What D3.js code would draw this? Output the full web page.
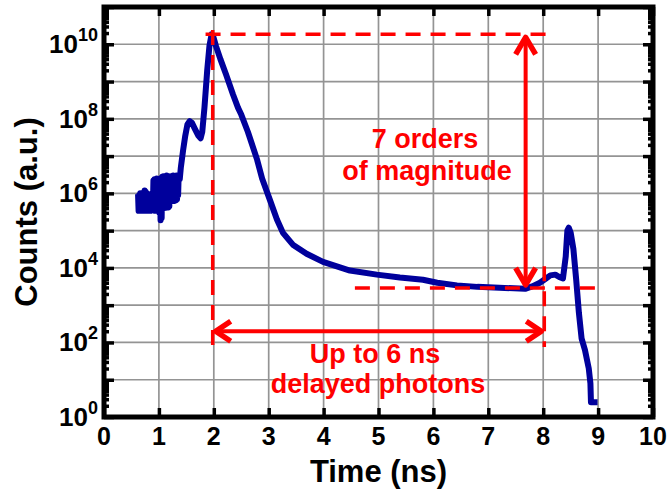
<!DOCTYPE html>
<html>
<head>
<meta charset="utf-8">
<script src="https://cdn.jsdelivr.net/npm/d3@7"></script>
<style>
body { margin: 0; background: #fff; }
svg { font-family: "Liberation Sans", Arial, sans-serif; font-weight: bold; }
</style>
</head>
<body>
<div id="chart"></div>
<script>
// tick labels
var xTicks = [0, 1, 2, 3, 4, 5, 6, 7, 8, 9, 10];
var yLabelExp = [0, 2, 4, 6, 8, 10];

// noisy start of the trace (ns / counts)
var noiseTime = [0.62, 0.63, 0.64, 0.65, 0.66, 0.67, 0.68, 0.69, 0.70, 0.71, 0.72, 0.73, 0.74, 0.75,
    0.76, 0.77, 0.78, 0.79, 0.80, 0.81, 0.82, 0.83, 0.84, 0.85, 0.86, 0.87, 0.88, 0.89, 0.90, 0.91,
    0.92, 0.93, 0.94, 0.95, 0.96, 0.97, 0.98, 0.99, 1.00, 1.01, 1.02, 1.03, 1.04, 1.05, 1.06, 1.07,
    1.08, 1.09, 1.10, 1.11, 1.12, 1.13, 1.14, 1.15, 1.16, 1.17, 1.18, 1.19, 1.20, 1.21, 1.22, 1.23,
    1.24, 1.25, 1.26, 1.27, 1.28, 1.29, 1.30, 1.31, 1.32, 1.33, 1.34, 1.35, 1.36, 1.38];
var noiseCounts = [9.5e5, 3.4e5, 9.0e5, 3.6e5, 1.0e6, 3.4e5, 8.5e5, 3.5e5, 9.5e5, 3.6e5, 8.0e5, 3.4e5, 1.2e6, 3.5e5,
    1.1e6, 3.6e5, 9.0e5, 3.4e5, 8.5e5, 3.5e5, 9.5e5, 3.6e5, 8.0e5, 3.4e5, 9.0e5, 3.5e5, 1.0e6, 3.6e5, 2.2e6, 3.5e5,
    2.4e6, 3.4e5, 2.0e6, 3.6e5, 2.5e6, 3.5e5, 2.2e6, 3.4e5, 2.4e6, 3.0e5, 2.3e6, 1.9e5, 2.6e6, 2.2e5, 2.8e6, 4.2e5,
    2.9e6, 4.0e5, 2.7e6, 4.3e5, 2.9e6, 4.1e5, 3.0e6, 4.4e5, 2.8e6, 4.2e5, 2.9e6, 4.5e5, 2.7e6, 6.0e5, 2.9e6, 6.3e5,
    2.8e6, 6.5e5, 3.0e6, 6.2e5, 2.9e6, 6.4e5, 2.8e6, 6.6e5, 3.0e6, 7.0e5, 2.9e6, 9.0e5, 3.0e6, 2.4e6];

// rest of the trace
var traceTime = [1.40, 1.44, 1.48, 1.52, 1.56, 1.60, 1.66, 1.72, 1.76, 1.79, 1.83, 1.88, 1.92, 1.96, 1.99,
    2.04, 2.12, 2.22, 2.35, 2.44, 2.50, 2.62, 2.79, 2.88, 3.02, 3.15, 3.26, 3.44, 3.69, 3.99, 4.48, 4.97,
    5.39, 5.81, 6.07, 6.43, 6.80, 7.20, 7.67, 7.80, 7.94, 8.05, 8.13, 8.22, 8.30, 8.36, 8.41, 8.44, 8.465,
    8.50, 8.55, 8.60, 8.65, 8.70, 8.76, 8.83, 8.86, 8.87, 8.99];
var traceCounts = [5.0e6, 1.4e7, 3.5e7, 7.1e7, 8.7e7, 7.9e7, 5.2e7, 3.5e7, 3.0e7, 4.5e7, 2.0e8, 2.0e9, 8.9e9, 1.86e10, 1.6e10,
    8.9e9, 4.0e9, 1.6e9, 4.5e8, 2.0e8, 1.3e8, 4.5e7, 7.9e6, 2.5e6, 6.8e5, 2.0e5, 8.7e4, 4.2e4, 2.4e4, 1.45e4, 8.5e3, 6.6e3,
    5.5e3, 4.8e3, 4.0e3, 3.4e3, 3.1e3, 2.95e3, 2.75e3, 3.2e3, 4.0e3, 5.2e3, 6.3e3, 6.6e3, 5.6e3, 5.2e3, 2.0e4, 1.0e5, 1.2e5,
    8.9e4, 3.2e4, 5.0e3, 630, 126, 63, 20, 8, 2.5, 2.5];

// annotation levels
var peakLevel = 1.85e10;
var floorLevel = 2.9e3;
var gateStart = 1.98;
var gateEnd = 8.02;
var arrowTime = 7.68;
var spanLevel = 200;

var width = 670, height = 495;
var margin = {top: 7, right: 17, bottom: 78, left: 104};
var red = "#ff0000";
var blue = "#00009c";

var svg = d3.select("#chart").append("svg")
    .attr("width", width)
    .attr("height", height);

var x = d3.scaleLinear().domain([0, 10]).range([margin.left, width - margin.right]);
var y = d3.scaleLog().domain([1, 1e11]).range([height - margin.bottom, margin.top]);

var decades = d3.range(0, 12).map(e => Math.pow(10, e));
var minors = [];
for (var e = 0; e < 11; e++) {
    for (var m = 2; m < 10; m++) minors.push(m * Math.pow(10, e));
}

// grid
svg.append("g").selectAll("line")
    .data(xTicks.slice(1, -1))
    .enter().append("line")
    .attr("x1", d => x(d)).attr("x2", d => x(d))
    .attr("y1", margin.top).attr("y2", height - margin.bottom)
    .attr("stroke", "#949494").attr("stroke-width", 1.7);

svg.append("g").selectAll("line")
    .data(decades.slice(1, -1))
    .enter().append("line")
    .attr("x1", margin.left).attr("x2", width - margin.right)
    .attr("y1", d => y(d)).attr("y2", d => y(d))
    .attr("stroke", "#949494").attr("stroke-width", 1.7);

// ticks (inward)
function styleAxis(g) {
    g.select(".domain").remove();
    g.selectAll(".tick line").attr("stroke", "black").attr("stroke-width", 3.5);
    g.selectAll(".tick text").remove();
}
svg.append("g").attr("transform", `translate(0,${height - margin.bottom})`)
    .call(d3.axisBottom(x).tickValues(xTicks).tickSizeInner(-9).tickSizeOuter(0)).call(styleAxis);
svg.append("g").attr("transform", `translate(0,${margin.top})`)
    .call(d3.axisTop(x).tickValues(xTicks).tickSizeInner(-9).tickSizeOuter(0)).call(styleAxis);
svg.append("g").attr("transform", `translate(${margin.left},0)`)
    .call(d3.axisLeft(y).tickValues(decades).tickSizeInner(-10).tickSizeOuter(0)).call(styleAxis);
svg.append("g").attr("transform", `translate(${margin.left},0)`)
    .call(d3.axisLeft(y).tickValues(minors).tickSizeInner(-5).tickSizeOuter(0)).call(styleAxis);
svg.append("g").attr("transform", `translate(${width - margin.right},0)`)
    .call(d3.axisRight(y).tickValues(decades).tickSizeInner(-10).tickSizeOuter(0)).call(styleAxis);
svg.append("g").attr("transform", `translate(${width - margin.right},0)`)
    .call(d3.axisRight(y).tickValues(minors).tickSizeInner(-5).tickSizeOuter(0)).call(styleAxis);

// tick labels
svg.append("g").selectAll("text")
    .data(xTicks)
    .enter().append("text")
    .attr("x", d => x(d))
    .attr("y", height - margin.bottom + 28)
    .attr("text-anchor", "middle")
    .attr("font-size", "25px")
    .text(d => d);

var yLab = svg.append("g").selectAll("text")
    .data(yLabelExp)
    .enter().append("text")
    .attr("x", margin.left - 6)
    .attr("y", d => y(Math.pow(10, d)) + 9)
    .attr("text-anchor", "end")
    .attr("font-size", "26px");
yLab.append("tspan").text("10");
yLab.append("tspan").attr("dy", -12).attr("font-size", "18px").text(d => d);

// axis titles
svg.append("text")
    .attr("x", (margin.left + width - margin.right) / 2)
    .attr("y", 482)
    .attr("text-anchor", "middle")
    .attr("font-size", "31px")
    .text("Time (ns)");

svg.append("text")
    .attr("transform", `translate(37,${(margin.top + height - margin.bottom) / 2}) rotate(-90)`)
    .attr("text-anchor", "middle")
    .attr("font-size", "31px")
    .text("Counts (a.u.)");

// trace
var pts = noiseTime.map((t, i) => [t, noiseCounts[i]])
    .concat(traceTime.map((t, i) => [t, traceCounts[i]]));
var line = d3.line().x(d => x(d[0])).y(d => y(d[1]));
svg.append("path")
    .attr("d", line(pts))
    .attr("fill", "none")
    .attr("stroke", blue)
    .attr("stroke-width", 6)
    .attr("stroke-linejoin", "round");

// annotations
var dashed = [
    [[1.85, peakLevel], [8.07, peakLevel]],
    [[gateStart, peakLevel * 1.3], [gateStart, 75]],
    [[4.57, floorLevel], [9.07, floorLevel]],
    [[gateEnd, 1.1e4], [gateEnd, 75]]
];
svg.append("g").selectAll("path")
    .data(dashed)
    .enter().append("path")
    .attr("d", d => line(d))
    .attr("fill", "none")
    .attr("stroke", red)
    .attr("stroke-width", 3.5)
    .attr("stroke-dasharray", "15,10");

var ann = svg.append("g")
    .attr("fill", "none")
    .attr("stroke", red)
    .attr("stroke-linejoin", "round");

// vertical double arrow
var ax = x(arrowTime), aTop = y(peakLevel), aBot = y(floorLevel);
ann.append("line").attr("x1", ax).attr("x2", ax).attr("y1", aTop + 4).attr("y2", aBot - 4)
    .attr("stroke-width", 4);
ann.append("path").attr("d", `M${ax - 10},${aTop + 20}L${ax},${aTop + 3}L${ax + 10},${aTop + 20}`)
    .attr("stroke-width", 5.5);
ann.append("path").attr("d", `M${ax - 10},${aBot - 20}L${ax},${aBot - 3}L${ax + 10},${aBot - 20}`)
    .attr("stroke-width", 5.5);

// horizontal double arrow
var hy = y(spanLevel), hl = x(gateStart), hr = x(gateEnd);
ann.append("line").attr("x1", hl + 4).attr("x2", hr - 4).attr("y1", hy).attr("y2", hy)
    .attr("stroke-width", 4);
ann.append("path").attr("d", `M${hl + 18},${hy - 10}L${hl + 3},${hy}L${hl + 18},${hy + 10}`)
    .attr("stroke-width", 5.5);
ann.append("path").attr("d", `M${hr - 18},${hy - 10}L${hr - 3},${hy}L${hr - 18},${hy + 10}`)
    .attr("stroke-width", 5.5);

// labels
var notes = [
    {text: "7 orders", cx: 425, by: 148},
    {text: "of magnitude", cx: 427, by: 180},
    {text: "Up to 6 ns", cx: 375, by: 363},
    {text: "delayed photons", cx: 378, by: 393}
];
svg.append("g").selectAll("text")
    .data(notes)
    .enter().append("text")
    .attr("x", d => d.cx)
    .attr("y", d => d.by)
    .attr("text-anchor", "middle")
    .attr("font-size", "27px")
    .attr("fill", red)
    .text(d => d.text);

// frame
svg.append("rect")
    .attr("x", margin.left).attr("y", margin.top)
    .attr("width", width - margin.left - margin.right)
    .attr("height", height - margin.top - margin.bottom)
    .attr("fill", "none")
    .attr("stroke", "black")
    .attr("stroke-width", 5);
</script>
</body>
</html>
